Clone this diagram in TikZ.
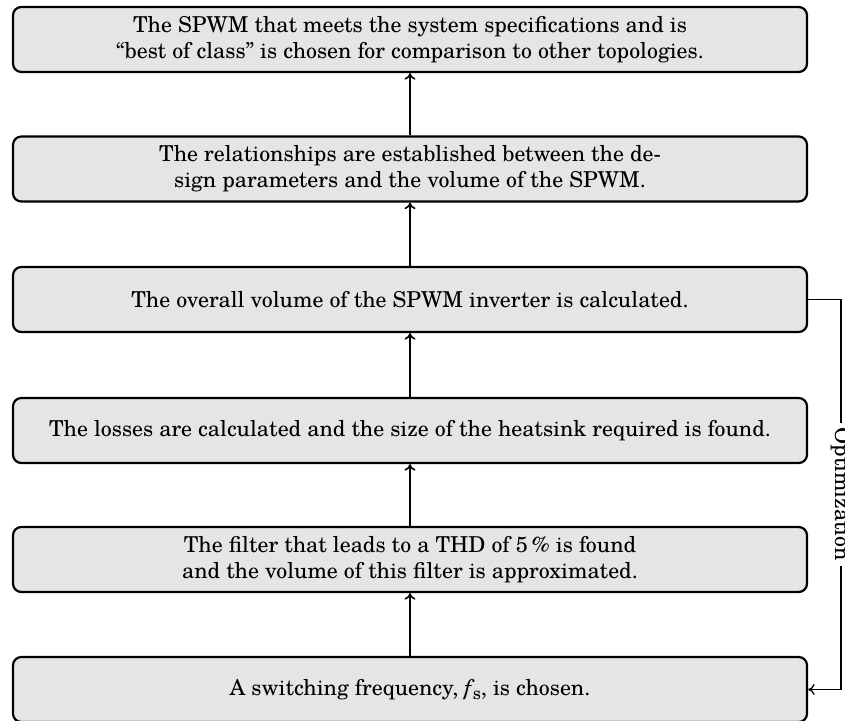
\documentclass[tikz,border=0pt]{standalone}
\usepackage{fontspec}
\setmainfont{TeX Gyre Schola}
\usetikzlibrary{arrows.meta}
\def\pxu{0.457pt}
\tikzset{
  stepbox/.style={draw, line width=1pt, fill=gray!20, rounded corners=3.8pt,
    minimum width=794*\pxu, minimum height=65*\pxu, align=center, inner sep=0pt},
  flow/.style={-{To[length=3pt,width=5pt]}, line width=0.75pt},
  loopline/.style={-{To[length=3pt,width=5pt]}, line width=0.6pt},
  looplabel/.style={fill=white, rotate=-90, inner sep=2pt}
}
\begin{document}
\begin{tikzpicture}[x=\pxu, y=-\pxu]
  \useasboundingbox (0,0) rectangle (845,720);
  \node[stepbox] (b1) at (410,39.5) {The SPWM that meets the system specifications and is\\``best of class'' is chosen for comparison to other topologies.};
  \node[stepbox] (b2) at (410,169) {The relationships are established between the de-\\sign parameters and the volume of the SPWM.};
  \node[stepbox] (b3) at (410,299.5) {The overall volume of the SPWM inverter is calculated.};
  \node[stepbox] (b4) at (410,430.5) {The losses are calculated and the size of the heatsink required is found.};
  \node[stepbox] (b5) at (410,559.5) {The filter that leads to a THD of 5\,\% is found\\and the volume of this filter is approximated.};
  \node[stepbox] (b6) at (410,689.5) {A switching frequency, {\itshape f}\kern0.5pt\raisebox{-0.45ex}{\footnotesize s}, is chosen.};
  \coordinate (side) at (841,0);

  \draw[flow] (b6) -- (b5);
  \draw[flow] (b5) -- (b4);
  \draw[flow] (b4) -- (b3);
  \draw[flow] (b3) -- (b2);
  \draw[flow] (b2) -- (b1);

  \draw[loopline] (b3.east) -- (b3.east -| side)
    -- node[looplabel] {Optimization} (b6.east -| side) -- (b6.east);
\end{tikzpicture}
\end{document}
